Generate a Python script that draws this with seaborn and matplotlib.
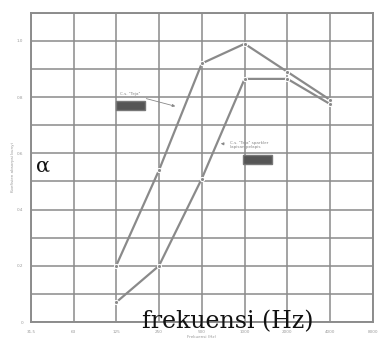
import numpy as np
import pandas as pd
import matplotlib
matplotlib.use("Agg")
import matplotlib.pyplot as plt
import seaborn as sns

# octave bands (Hz)
bands = [31.5, 63, 125, 250, 500, 1000, 2000, 4000, 8000]
band_labels = ["31.5", "63", "125", "250", "500", "1000", "2000", "4000", "8000"]

freq = [125, 250, 500, 1000, 2000, 4000]
alpha_a = [0.20, 0.54, 0.92, 0.99, 0.89, 0.79]
alpha_b = [0.07, 0.20, 0.51, 0.865, 0.865, 0.775]

y_ticks = [0, 0.2, 0.4, 0.6, 0.8, 1.0]
y_labels = ["0", "0.2", "0.4", "0.6", "0.8", "1.0"]

data = pd.DataFrame({
    "freq": freq * 2,
    "alpha": alpha_a + alpha_b,
    "seri": ["a"] * len(freq) + ["b"] * len(freq),
})

sns.set_style("white")
fig = plt.figure(figsize=(3.78, 3.47), dpi=100)
ax = fig.add_axes([0.082, 0.072, 0.905, 0.891])

grid_col = "#8c8c8c"
sns.lineplot(data=data, x="freq", y="alpha", hue="seri", palette=["#8a8a8a", "#8a8a8a"],
             marker="o", markersize=3, linewidth=1.6, legend=False, ax=ax)

ax.set_xscale("log", base=2)
ax.set_xlim(31.5, 8000)
ax.set_ylim(0, 1.1)
ax.set_xticks(bands)
ax.set_xticklabels(band_labels)
ax.minorticks_off()
ax.set_yticks(np.arange(0, 1.11, 0.1), minor=True)
ax.set_yticks(y_ticks)
ax.set_yticklabels(y_labels)
ax.tick_params(labelsize=3, colors="#999999", length=2)
ax.tick_params(which="minor", length=0)
ax.grid(True, which="both", color=grid_col, linewidth=1.4, alpha=0.8)
for s in ax.spines.values():
    s.set_color(grid_col)
    s.set_linewidth(1.4)
ax.set_xlabel("Frekuensi (Hz)", fontsize=3, color="#999999", labelpad=1)
ax.set_ylabel("Koefisien absorpsi bunyi", fontsize=3, color="#999999", labelpad=1)

# annotations
ax.annotate("C.s. \"Teja\"", xy=(340, 0.765), xytext=(133, 0.81), fontsize=3, color="#888888",
            va="center",
            arrowprops=dict(arrowstyle="-|>", color="#888888", lw=0.6, mutation_scale=4))
ax.text(130, 0.77, "              ", fontsize=4, va="center",
        bbox=dict(facecolor="#555555", edgecolor="#777777", pad=1.5))
ax.annotate("C.s. \"Teja\" sparkler\nlapisan pelapis", xy=(650, 0.635), xytext=(790, 0.63),
            fontsize=3, color="#888888", va="center",
            arrowprops=dict(arrowstyle="-|>", color="#888888", lw=0.6, mutation_scale=4))
ax.text(1015, 0.577, "              ", fontsize=4, va="center",
        bbox=dict(facecolor="#555555", edgecolor="#777777", pad=1.5))

fig.text(0.095, 0.505, "α", fontsize=15, family="DejaVu Serif", color="#111111")
fig.text(0.375, 0.055, "frekuensi (Hz)", fontsize=17, family="DejaVu Serif", color="#111111")

fig.savefig("out.png", dpi=100)
